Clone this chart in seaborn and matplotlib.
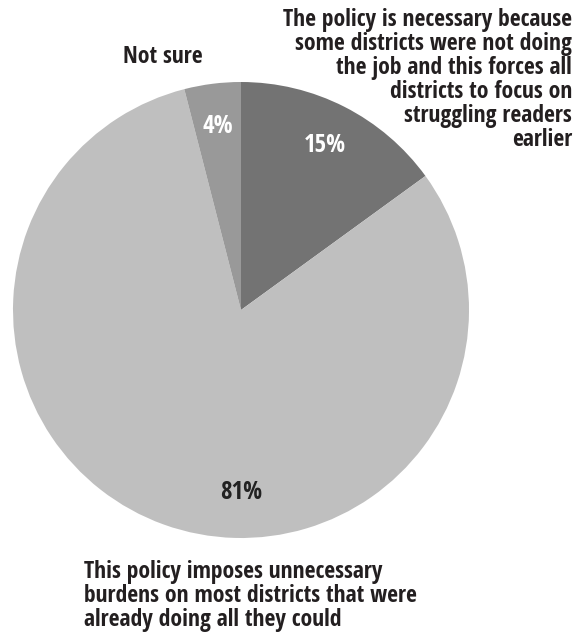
import matplotlib
matplotlib.use("Agg")
import matplotlib.pyplot as plt
from matplotlib import font_manager as fm
import seaborn as sns

sns.set_theme(style="white")


def weight_of(f):
    try:
        return int(f.weight)
    except (TypeError, ValueError):
        return 700 if "bold" in str(f.weight).lower() else 400


# Pick a bold, narrow humanist sans face if one is installed
def pick_label_font():
    entries = fm.fontManager.ttflist
    bold = [f for f in entries if 600 <= weight_of(f) <= 750 and "italic" not in str(f.style)]
    for name in ["Open Sans Condensed", "Roboto Condensed", "Noto Sans Condensed",
                 "Liberation Sans Narrow"]:
        for f in bold:
            if f.name == name:
                return f.fname, True
    for name in ["Open Sans", "Noto Sans", "Roboto"]:
        for f in bold:
            if f.name == name and str(f.stretch) in ("condensed", "semi-condensed"):
                return f.fname, True
    for f in bold:
        if f.name == "Lato":
            return f.fname, False
    return None, False


fname, narrow = pick_label_font()
if fname:
    fm.fontManager.addfont(fname)
    label_family = fm.FontProperties(fname=fname).get_name()
else:
    label_family = "Open Sans"
plt.rcParams["font.family"] = [label_family, "DejaVu Sans"]
fs = 17 if narrow else 14.5
pct_fs = 18 if narrow else 15


def props(size):
    if fname:
        return fm.FontProperties(fname=fname, size=size)
    return fm.FontProperties(family=label_family, weight="bold", size=size)


# Survey responses (percent)
categories = [
    "The policy is necessary because\nsome districts were not doing\nthe job and this forces all\ndistricts to focus on\nstruggling readers\nearlier",
    "This policy imposes unnecessary\nburdens on most districts that were\nalready doing all they could",
    "Not sure",
]
values = [15, 81, 4]
colors = ["#737373", "#bfbfbf", "#999999"]
pct_colors = ["white", "#222222", "white"]
text_color = "#231f20"

W, H = 585, 633
fig = plt.figure(figsize=(W / 100, H / 100), dpi=100)
fig.patch.set_facecolor("white")

cx, cy, r = 241, 310, 228
ax = fig.add_axes([(cx - r) / W, (H - cy - r) / H, 2 * r / W, 2 * r / H])

wedges, texts, autotexts = ax.pie(
    values,
    colors=colors,
    startangle=90,
    counterclock=False,
    autopct=lambda p: f"{p:.0f}%",
    pctdistance=0.81,
    wedgeprops=dict(linewidth=0),
)
for t, c in zip(autotexts, pct_colors):
    t.set_color(c)
    t.set_fontproperties(props(pct_fs))
# the large slice carries its label straight below the centre
autotexts[1].set_position((0, -0.80))

ax.set_xlim(-1, 1)
ax.set_ylim(-1, 1)
ax.set_aspect("equal")
ax.axis("off")

fp = props(fs)
fig.text(572 / W, 1 - 8 / H, categories[0], ha="right", va="top",
         linespacing=1.0, multialignment="right", fontproperties=fp, color=text_color)
fig.text(163 / W, 1 - 57 / H, categories[2], ha="center", va="center",
         fontproperties=fp, color=text_color)
fig.text(84 / W, 1 - 560 / H, categories[1], ha="left", va="top",
         linespacing=1.0, multialignment="left", fontproperties=fp, color=text_color)

fig.savefig("out.png", dpi=100, facecolor="white")
